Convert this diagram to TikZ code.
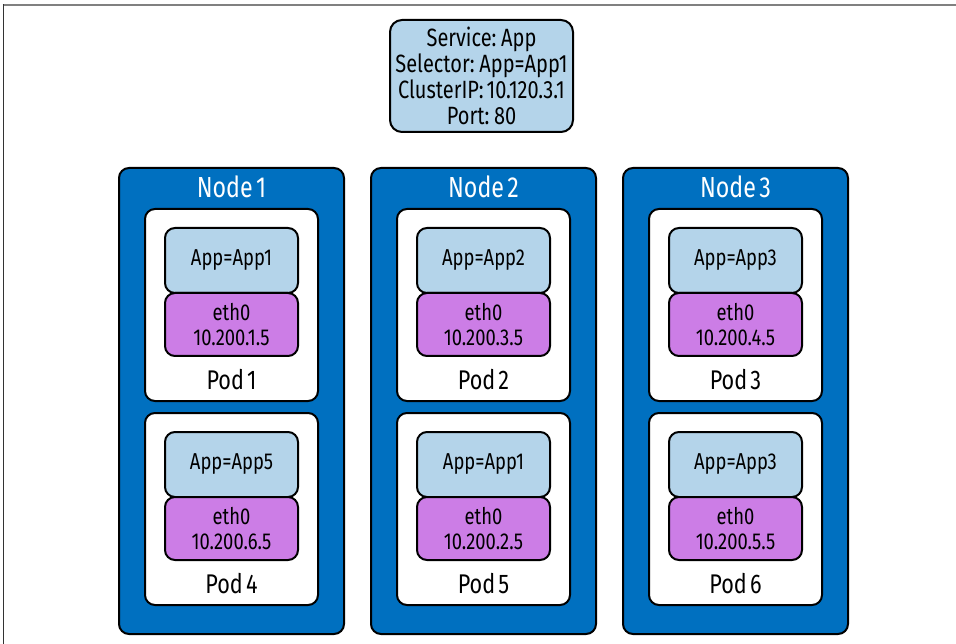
\documentclass[tikz,border=0pt]{standalone}
\usepackage{fontspec}
\setmainfont{Fira Sans}[FakeStretch=0.8,WordSpace=0.55]
\definecolor{nodeblue}{RGB}{0,112,192}
\definecolor{appblue}{RGB}{180,212,234}
\definecolor{ethpurple}{RGB}{204,125,230}
\begin{document}
\begin{tikzpicture}[x=1pt,y=-1pt,
  box/.style={draw=black, line width=2pt, rounded corners=10pt, inner sep=0pt},
  kbox/.style={box, fill=nodeblue, minimum width=225pt, minimum height=466pt},
  podbox/.style={box, fill=white, minimum width=173pt, minimum height=192pt},
  appbox/.style={box, fill=appblue, minimum width=133pt, minimum height=65pt, font=\fontsize{23}{25}\selectfont},
  ethbox/.style={box, fill=ethpurple, minimum width=133pt, minimum height=63pt, align=center, font=\fontsize{23}{25}\selectfont},
  svc/.style={box, fill=appblue, rounded corners=12pt, minimum width=183pt, minimum height=112pt, align=center, font=\fontsize{25}{26}\selectfont},
  titletext/.style={text=white, font=\fontsize{29}{29}\selectfont, anchor=base, inner sep=0pt},
  podlabel/.style={font=\fontsize{27}{27}\selectfont, anchor=base, inner sep=0pt}
]
\useasboundingbox (0,0) rectangle (956,644);
\draw[gray, line width=2pt] (2.5,5.5) -- (956,5.5);
\draw[black!80, line width=1.3pt] (3.5,4.5) -- (3.5,644);

\node[svc] (svc) at (481.5,76) {Service: App\\Selector: App=App1\\ClusterIP: 10.120.3.1\\Port: 80};

\foreach \i/\a/\ipa/\pa/\b/\ipb/\pb in {
  1/App1/10.200.1.5/1/App5/10.200.6.5/4,
  2/App2/10.200.3.5/2/App1/10.200.2.5/5,
  3/App3/10.200.4.5/3/App3/10.200.5.5/6} {
  \pgfmathsetmacro{\cx}{231.5+252*(\i-1)}
  \node[kbox] (k\i) at (\cx,401) {};
  \node[titletext] (t\i) at (\cx,198) {Node \i};
  % top pod
  \node[podbox] (pod\pa) at (\cx,305) {};
  \node[appbox] (app\pa) at (\cx,260.5) {App=\a};
  \node[ethbox] (eth\pa) at (\cx,324.5) {eth0\\\ipa};
  \node[podlabel] (pl\pa) at (\cx,389) {Pod \pa};
  % bottom pod
  \node[podbox] (pod\pb) at (\cx,509) {};
  \node[appbox] (app\pb) at (\cx,464.5) {App=\b};
  \node[ethbox] (eth\pb) at (\cx,528.5) {eth0\\\ipb};
  \node[podlabel] (pl\pb) at (\cx,593) {Pod \pb};
}
\end{tikzpicture}
\end{document}
